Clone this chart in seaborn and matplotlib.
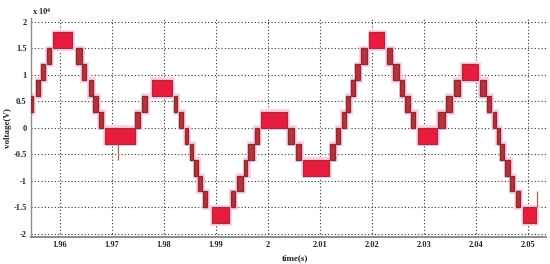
import numpy as np
import matplotlib
matplotlib.use('Agg')
import matplotlib.pyplot as plt
import seaborn as sns

# switching bands of the staircase voltage (start time, end time, lower level in V)
t_on = [1.9544, 1.9555, 1.9565, 1.9575, 1.9588, 1.9632, 1.9643, 1.9656, 1.9665, 1.9675,
        1.9687, 1.9745, 1.9759, 1.9777, 1.9820, 1.9830, 1.9841, 1.9851, 1.9859, 1.9866,
        1.9876, 1.9892, 1.9929, 1.9940, 1.9955, 1.9963, 1.9975, 1.9988, 2.0039, 2.0055,
        2.0067, 2.0120, 2.0132, 2.0142, 2.0151, 2.0161, 2.0168, 2.0179, 2.0195, 2.0229,
        2.0240, 2.0255, 2.0264, 2.0276, 2.0288, 2.0327, 2.0343, 2.0359, 2.0373, 2.0408,
        2.0422, 2.0433, 2.0440, 2.0447, 2.0457, 2.0466, 2.0477, 2.0490]
t_off = [1.9549, 1.9562, 1.9572, 1.9583, 1.9624, 1.9642, 1.9651, 1.9664, 1.9674, 1.9683,
         1.9745, 1.9755, 1.9768, 1.9815, 1.9826, 1.9837, 1.9847, 1.9857, 1.9865, 1.9873,
         1.9883, 1.9926, 1.9937, 1.9953, 1.9961, 1.9973, 1.9983, 2.0037, 2.0051, 2.0064,
         2.0118, 2.0130, 2.0139, 2.0150, 2.0158, 2.0167, 2.0177, 2.0190, 2.0223, 2.0238,
         2.0252, 2.0262, 2.0273, 2.0284, 2.0325, 2.0341, 2.0354, 2.0369, 2.0404, 2.0419,
         2.0429, 2.0438, 2.0446, 2.0454, 2.0465, 2.0474, 2.0485, 2.0516]
v_low = [3000, 6000, 9000, 12000, 15000, 12000, 9000, 6000, 3000, 0,
         -3000, 0, 3000, 6000, 3000, 0, -3000, -6000, -9000, -12000,
         -15000, -18000, -15000, -12000, -9000, -6000, -3000, 0, -3000, -6000,
         -9000, -6000, -3000, 0, 3000, 6000, 9000, 12000, 15000, 12000,
         9000, 6000, 3000, 0, -3000, 0, 3000, 6000, 9000, 6000,
         3000, 0, -3000, -6000, -9000, -12000, -15000, -18000]
step = 3000

# thin glitches
spike_t = [1.9713, 2.0518]
spike_lo = [-6000, -15000]
spike_hi = [-3000, -12000]

xticks = [1.96, 1.97, 1.98, 1.99, 2.00, 2.01, 2.02, 2.03, 2.04, 2.05]
xlabels = ['1.96', '1.97', '1.98', '1.99', '2', '2.01', '2.02', '2.03', '2.04', '2.05']
yticks = [-20000, -15000, -10000, -5000, 0, 5000, 10000, 15000, 20000]
ylabels = ['-2', '-1.5', '-1', '-0.5', '0', '0.5', '1', '1.5', '2']

sns.set_style('white')
plt.rcParams['font.family'] = ['Liberation Serif', 'DejaVu Serif']
plt.rcParams['font.weight'] = 'bold'
plt.rcParams['mathtext.default'] = 'regular'

t_on = np.array(t_on)
t_off = np.array(t_off)
v_low = np.array(v_low)
wide = (t_off - t_on) > 0.0015

fig = plt.figure(figsize=(5.5, 2.64), dpi=100)
ax = fig.add_axes([0.0558, 0.1011, 0.937, 0.8295])

# pink halo around each band
ax.bar(x=t_on - 0.0003, height=step + 1000, width=(t_off - t_on) + 0.0009,
       bottom=v_low - 500, align='edge', color='#fcd2e8', linewidth=0, zorder=2)
# narrow switching steps look darker, the plateaus are bright red
ax.bar(x=t_on[~wide], height=step, width=(t_off - t_on)[~wide], bottom=v_low[~wide],
       align='edge', color='#b5323f', edgecolor='#8e2b2e', linewidth=1.0, zorder=3)
ax.bar(x=t_on[wide], height=step, width=(t_off - t_on)[wide], bottom=v_low[wide],
       align='edge', color='#e81c3e', edgecolor='#a32f36', linewidth=0.9, zorder=3)
ax.vlines(spike_t, spike_lo, spike_hi, color='#b05a5a', linewidth=0.9, zorder=3)

ax.set_xlim(1.95443, 2.0535)
ax.set_ylim(-20650, 20650)
ax.set_xticks(xticks)
ax.set_xticklabels(xlabels)
ax.set_yticks(yticks)
ax.set_yticklabels(ylabels)
ax.grid(True, color='#333333', linestyle=(0, (1, 2)), linewidth=0.8)
ax.set_axisbelow(True)

for s in ['top', 'right']:
    ax.spines[s].set_visible(False)
for s in ['left', 'bottom']:
    ax.spines[s].set_color('#8c8c8c')
ax.spines['bottom'].set_linewidth(1.4)
ax.spines['left'].set_linewidth(1.0)

ax.tick_params(axis='both', labelsize=6, direction='in', length=2, pad=3,
               color='#666666')
for lab in ax.get_xticklabels() + ax.get_yticklabels():
    lab.set_fontweight('bold')

ax.set_xlabel('time(s)', fontsize=6.5, fontweight='bold', labelpad=2)
ax.set_ylabel('voltage(V)', fontsize=6.5, fontweight='bold', labelpad=1)
ax.xaxis.set_label_coords(0.513, -0.075)
fig.text(0.058, 0.945, r'x 10$^4$', fontsize=6, fontweight='bold')

fig.savefig('out.png', dpi=100)
